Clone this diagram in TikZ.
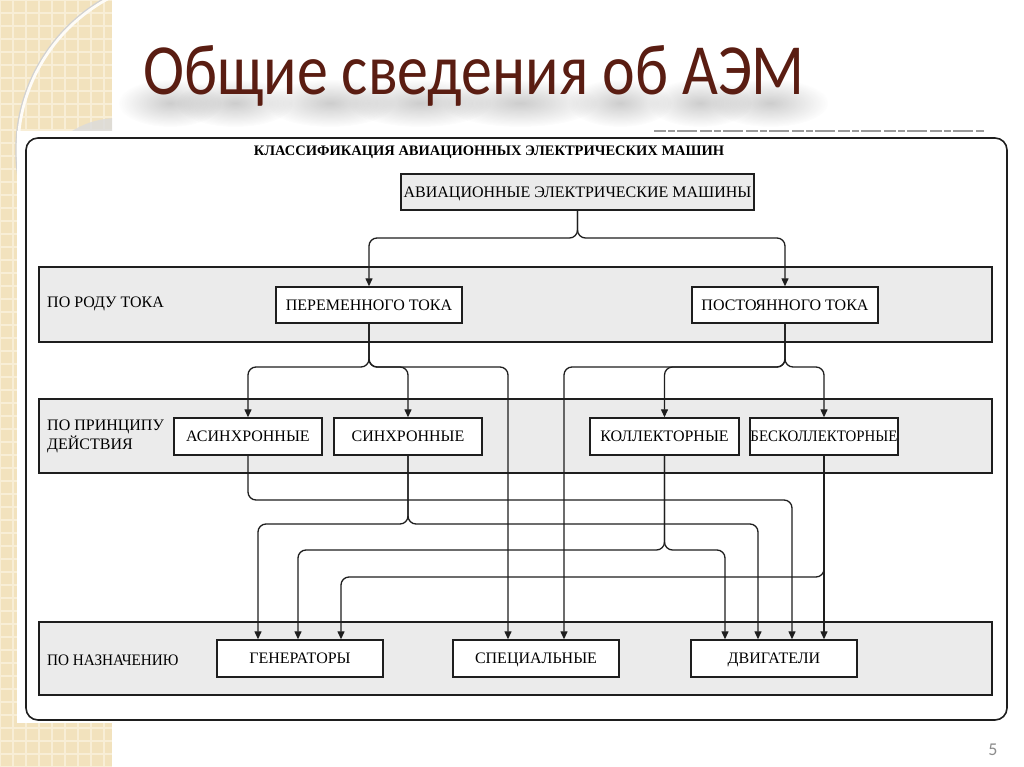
\documentclass[tikz,border=0pt]{standalone}
\usepackage{fontspec}
\setmainfont{Liberation Serif}
\newfontfamily\titlefont{Carlito}
\usetikzlibrary{arrows.meta,fadings}
\definecolor{beige}{HTML}{F2E2BD}
\definecolor{beigeline}{HTML}{F8EED6}
\definecolor{titlecol}{HTML}{5A1D12}
\definecolor{bandfill}{HTML}{EBEBEB}
\definecolor{linecol}{HTML}{1E1E1E}
\tikzfading[name=softblob, inner color=transparent!20, outer color=transparent!100]
\tikzset{
  band/.style={draw=linecol, line width=1.4pt, fill=bandfill},
  box/.style={draw=linecol, line width=1.4pt, fill=white, inner sep=0pt,
    minimum height=36pt, text height=10.6pt, text depth=0pt, font=\fontsize{16}{18}\selectfont},
  lbl/.style={anchor=west, inner sep=0pt, align=left, font=\fontsize{16}{19}\selectfont},
  conn/.style={draw=linecol, line width=1.3pt, rounded corners=8pt,
    -{Triangle[length=8pt,width=7pt]}},
  shad/.style={fill=black!70, opacity=0.35, path fading=softblob}
}
\begin{document}
\begin{tikzpicture}[x=1pt,y=-1pt]
\useasboundingbox (0,0) rectangle (1024,767);
\fill[white] (0,0) rectangle (1024,767);
% left decorative strip
\begin{scope}
  \clip (0,0) rectangle (112,767);
  \fill[beige] (0,0) rectangle (112,767);
  \foreach \i in {0,13,...,767} {\draw[beigeline, line width=1.2pt] (0,\i) -- (112,\i);}
  \foreach \i in {0,13,...,112} {\draw[beigeline, line width=1.2pt] (\i,0) -- (\i,767);}
  \begin{scope}
    \clip (190,150) circle (172);
    \fill[white, opacity=0.3, even odd rule] (0,0) rectangle (112,140) (150,150) circle (160);
  \end{scope}
  \fill[black!14, opacity=0.8] (118,206) circle (88);
  \draw[black!18, line width=1.5pt] (190,150) circle (174);
  \draw[white!90!beige, line width=2.8pt] (190,150) circle (172);
\end{scope}
% pasted picture area
\fill[white] (17,131) rectangle (1010,723);
\draw[black!40, line width=2pt, dash pattern=on 12pt off 2pt on 7pt off 2pt on 20pt off 3pt] (654,131) -- (984,131);
\draw[linecol, line width=1.6pt, rounded corners=12pt] (26,138) rectangle (1007,720);
% title shadow (soft blurred haze)
\foreach \cx/\rx in {170/40, 235/45, 330/50, 420/55, 520/60, 620/40, 700/40, 770/45} {
  \fill[shad] (\cx,103) ellipse (\rx*1.3 and 24);
}
\node[anchor=base west, inner sep=0pt, text=titlecol,
  font=\titlefont\fontsize{72}{72}\selectfont] (title) at (143,95) {\scalebox{0.86}[1]{Общие сведения об АЭМ}};
\node[text=black!45, font=\titlefont\fontsize{18}{18}\selectfont] (pg) at (993,750) {5};
% heading
\node[font=\bfseries\fontsize{14.5}{16}\selectfont, inner sep=0pt] (head) at (489,152)
  {КЛАССИФИКАЦИЯ АВИАЦИОННЫХ ЭЛЕКТРИЧЕСКИХ МАШИН};
% bands
\draw[band] (39,267) rectangle (992,342);
\draw[band] (39,399) rectangle (992,473);
\draw[band] (39,622) rectangle (992,695);
\node[lbl] (l1) at (47,304) {ПО РОДУ ТОКА};
\node[lbl] (l2) at (47,436) {ПО ПРИНЦИПУ\\ДЕЙСТВИЯ};
\node[lbl] (l3) at (47,660) {\scalebox{0.95}[1]{ПО НАЗНАЧЕНИЮ}};
% nodes
\node[box, fill=bandfill, minimum width=353pt] (top) at (577.5,192) {АВИАЦИОННЫЕ ЭЛЕКТРИЧЕСКИЕ МАШИНЫ};
\node[box, minimum width=186pt] (per) at (369,305) {ПЕРЕМЕННОГО ТОКА};
\node[box, minimum width=186pt] (post) at (785,305) {ПОСТОЯННОГО ТОКА};
\node[box, minimum width=148pt, minimum height=37pt] (asyn) at (248,436.5) {АСИНХРОННЫЕ};
\node[box, minimum width=148pt, minimum height=37pt] (syn) at (408,436.5) {СИНХРОННЫЕ};
\node[box, minimum width=149pt, minimum height=37pt] (kol) at (664.5,436.5) {КОЛЛЕКТОРНЫЕ};
\node[box, minimum width=148pt, minimum height=37pt] (bes) at (824,436.5) {\scalebox{0.93}[1]{БЕСКОЛЛЕКТОРНЫЕ}};
\node[box, minimum width=166pt, minimum height=37pt] (gen) at (300,658.5) {ГЕНЕРАТОРЫ};
\node[box, minimum width=166pt, minimum height=37pt] (spec) at (536,658.5) {СПЕЦИАЛЬНЫЕ};
\node[box, minimum width=166pt, minimum height=37pt] (dvig) at (774,658.5) {ДВИГАТЕЛИ};
% levels and targets
\coordinate (L238) at (0,238);
\coordinate (L367) at (0,367);
\coordinate (L500) at (0,500);
\coordinate (L524) at (0,524);
\coordinate (L550) at (0,550);
\coordinate (L577) at (0,577);
\coordinate (sp1) at ([xshift=-28pt]spec.north);
\coordinate (sp2) at ([xshift=28pt]spec.north);
\coordinate (g1) at ([xshift=-42pt]gen.north);
\coordinate (g2) at ([xshift=-2pt]gen.north);
\coordinate (g3) at ([xshift=41pt]gen.north);
\coordinate (d1) at ([xshift=-49pt]dvig.north);
\coordinate (d2) at ([xshift=-16pt]dvig.north);
\coordinate (d3) at ([xshift=18pt]dvig.north);
\coordinate (d4) at ([xshift=50pt]dvig.north);
% connectors
\draw[conn] (top.south) -- (top.south |- L238) -- (per.north |- L238) -- (per.north);
\draw[conn] (top.south) -- (top.south |- L238) -- (post.north |- L238) -- (post.north);
\draw[conn] (per.south) -- (per.south |- L367) -- (asyn.north |- L367) -- (asyn.north);
\draw[conn] (per.south) -- (per.south |- L367) -- (syn.north |- L367) -- (syn.north);
\draw[conn] (per.south) -- (per.south |- L367) -- (sp1 |- L367) -- (sp1);
\draw[conn] (post.south) -- (post.south |- L367) -- (sp2 |- L367) -- (sp2);
\draw[conn] (post.south) -- (post.south |- L367) -- (kol.north |- L367) -- (kol.north);
\draw[conn] (post.south) -- (post.south |- L367) -- (bes.north |- L367) -- (bes.north);
\draw[conn] (asyn.south) -- (asyn.south |- L500) -- (d3 |- L500) -- (d3);
\draw[conn] (syn.south) -- (syn.south |- L524) -- (g1 |- L524) -- (g1);
\draw[conn] (syn.south) -- (syn.south |- L524) -- (d2 |- L524) -- (d2);
\draw[conn] (kol.south) -- (kol.south |- L550) -- (g2 |- L550) -- (g2);
\draw[conn] (kol.south) -- (kol.south |- L550) -- (d1 |- L550) -- (d1);
\draw[conn] (bes.south) -- (bes.south |- L577) -- (g3 |- L577) -- (g3);
\draw[conn] (bes.south) -- (d4);
\end{tikzpicture}
\end{document}
